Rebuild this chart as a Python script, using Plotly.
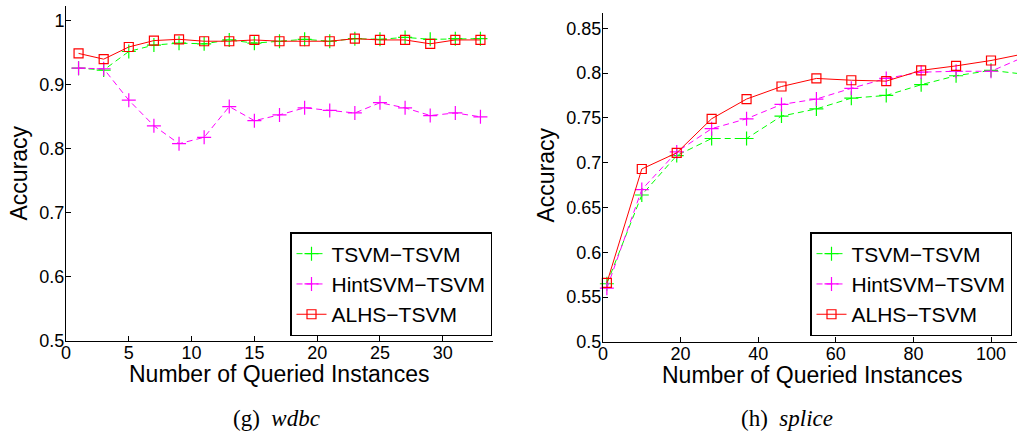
import plotly.graph_objects as go

W, H = 1017, 433

# ---------------- data: (g) wdbc ----------------
wdbc_x = [1, 3, 5, 7, 9, 11, 13, 15, 17, 19, 21, 23, 25, 27, 29, 31, 33]
wdbc_tsvm = [0.926, 0.923, 0.952, 0.962, 0.965, 0.964, 0.970, 0.965, 0.968,
             0.971, 0.968, 0.972, 0.971, 0.974, 0.971, 0.972, 0.972]
wdbc_hint = [0.926, 0.925, 0.876, 0.836, 0.808, 0.818, 0.866, 0.844, 0.853,
             0.864, 0.860, 0.856, 0.872, 0.864, 0.852, 0.856, 0.850]
wdbc_alhs = [0.949, 0.940, 0.959, 0.969, 0.971, 0.968, 0.968, 0.970, 0.968,
             0.968, 0.968, 0.972, 0.970, 0.970, 0.964, 0.970, 0.970]

# ---------------- data: (h) splice ----------------
splice_x = [1, 10, 19, 28, 37, 46, 55, 64, 73, 82, 91, 100, 108]
splice_tsvm = [0.565, 0.664, 0.708, 0.727, 0.727, 0.752, 0.760, 0.772, 0.775,
               0.787, 0.797, 0.803, 0.799]
splice_hint = [0.560, 0.670, 0.712, 0.738, 0.749, 0.765, 0.771, 0.783, 0.794,
               0.801, 0.802, 0.802, 0.817]
splice_alhs = [0.566, 0.693, 0.711, 0.749, 0.771, 0.785, 0.794, 0.792, 0.791,
               0.803, 0.808, 0.814, 0.821]

series_names = ["TSVM\u2212TSVM", "HintSVM\u2212TSVM", "ALHS\u2212TSVM"]

wdbc_xticks = [0, 5, 10, 15, 20, 25, 30]
wdbc_yticks = [0.5, 0.6, 0.7, 0.8, 0.9, 1.0]
wdbc_yticktext = ["0.5", "0.6", "0.7", "0.8", "0.9", "1"]
splice_xticks = [0, 20, 40, 60, 80, 100]
splice_yticks = [0.5, 0.55, 0.6, 0.65, 0.7, 0.75, 0.8, 0.85]
splice_yticktext = ["0.5", "0.55", "0.6", "0.65", "0.7", "0.75", "0.8", "0.85"]

captions = ["(g)  <i>wdbc</i>", "(h)  <i>splice</i>"]
xlabel = "Number of Queried Instances"
ylabel = "Accuracy"

# ---------------- styling ----------------
FONT = "Liberation Sans, Arial, Helvetica, sans-serif"
SERIF = "Liberation Serif, Times New Roman, serif"
GREEN, MAGENTA, RED = "#00ff00", "#ff00ff", "#ff0000"


def px(x):
    return x / W


def py(y):
    return 1 - y / H


fig = go.Figure()


def add_series(xs, ys_list, xa, ya, legend):
    styles = [
        dict(color=GREEN, dash="6px,4px", symbol="cross-thin-open", size=10),
        dict(color=MAGENTA, dash="6px,4px", symbol="cross-thin-open", size=10),
        dict(color=RED, dash="solid", symbol="square-open", size=9),
    ]
    for name, ys, st in zip(series_names, ys_list, styles):
        fig.add_trace(go.Scatter(
            x=xs, y=ys, name=name, mode="lines+markers",
            xaxis=xa, yaxis=ya, legend=legend, cliponaxis=False,
            line=dict(color=st["color"], width=1, dash=st["dash"]),
            marker=dict(symbol=st["symbol"], size=st["size"],
                        color=st["color"],
                        line=dict(color=st["color"], width=1.2)),
        ))


add_series(wdbc_x, [wdbc_tsvm, wdbc_hint, wdbc_alhs], "x", "y", "legend")
add_series(splice_x, [splice_tsvm, splice_hint, splice_alhs], "x2", "y2", "legend2")

axis_common = dict(showline=True, linecolor="black", linewidth=1,
                   ticks="inside", ticklen=5, tickwidth=1, tickcolor="black",
                   showgrid=False, zeroline=False, automargin=False,
                   tickfont=dict(family=FONT, size=18, color="black"))

L_X0, L_X1, L_Y0, L_Y1 = 66, 493, 341, 6
R_X0, R_Y0, R_Y1 = 603, 342, 13

LEG_FS = 21
legend_common = dict(bgcolor="white", bordercolor="black", borderwidth=1.5,
                     font=dict(family=FONT, size=LEG_FS, color="black"),
                     tracegroupgap=0, xanchor="right", yanchor="bottom")

fig.update_layout(
    width=W, height=H, autosize=False,
    margin=dict(l=0, r=0, t=0, b=0, pad=0),
    paper_bgcolor="white", plot_bgcolor="white",
    font=dict(family=FONT, color="black"),
    showlegend=True,
    xaxis=dict(domain=[px(L_X0), px(L_X1)], range=[0, 34],
               tickvals=wdbc_xticks, anchor="y", ticklabelstandoff=-5,
               **axis_common),
    yaxis=dict(domain=[py(L_Y0), py(L_Y1)], range=[0.5, 1.023],
               tickvals=wdbc_yticks, ticktext=wdbc_yticktext, anchor="x",
               ticklabelstandoff=-3, **axis_common),
    xaxis2=dict(domain=[px(R_X0), 1.0], range=[0, 106.7],
                tickvals=splice_xticks, anchor="y2", ticklabelstandoff=-5,
                **axis_common),
    yaxis2=dict(domain=[py(R_Y0), py(R_Y1)], range=[0.5, 0.867],
                tickvals=splice_yticks, ticktext=splice_yticktext, anchor="x2",
                ticklabelstandoff=-3, **axis_common),
    legend=dict(x=px(492), y=py(336), **legend_common),
    legend2=dict(x=px(1012), y=py(336), **legend_common),
)

ann = []
# axis titles
ann.append(dict(text=xlabel, x=px(278.5), y=py(374), xref="paper", yref="paper",
                showarrow=False, xanchor="center", yanchor="middle",
                font=dict(family=FONT, size=23, color="black")))
ann.append(dict(text=xlabel, x=px(811.5), y=py(374.5), xref="paper", yref="paper",
                showarrow=False, xanchor="center", yanchor="middle",
                font=dict(family=FONT, size=23, color="black")))
ann.append(dict(text=ylabel, x=px(18.5), y=py(173), xref="paper", yref="paper",
                showarrow=False, xanchor="center", yanchor="middle", textangle=-90,
                font=dict(family=FONT, size=23, color="black")))
ann.append(dict(text=ylabel, x=px(545), y=py(175.5), xref="paper", yref="paper",
                showarrow=False, xanchor="center", yanchor="middle", textangle=-90,
                font=dict(family=FONT, size=23, color="black")))
# captions
ann.append(dict(text=captions[0], x=px(276), y=py(418), xref="paper", yref="paper",
                showarrow=False, xanchor="center", yanchor="middle",
                font=dict(family=SERIF, size=23, color="black")))
ann.append(dict(text=captions[1], x=px(787), y=py(418), xref="paper", yref="paper",
                showarrow=False, xanchor="center", yanchor="middle",
                font=dict(family=SERIF, size=23, color="black")))
fig.update_layout(annotations=ann)

fig.write_html("out.html",
               config={"displayModeBar": False},
               post_script="document.body.style.margin='0px';"
                           "document.body.style.overflow='hidden';")
